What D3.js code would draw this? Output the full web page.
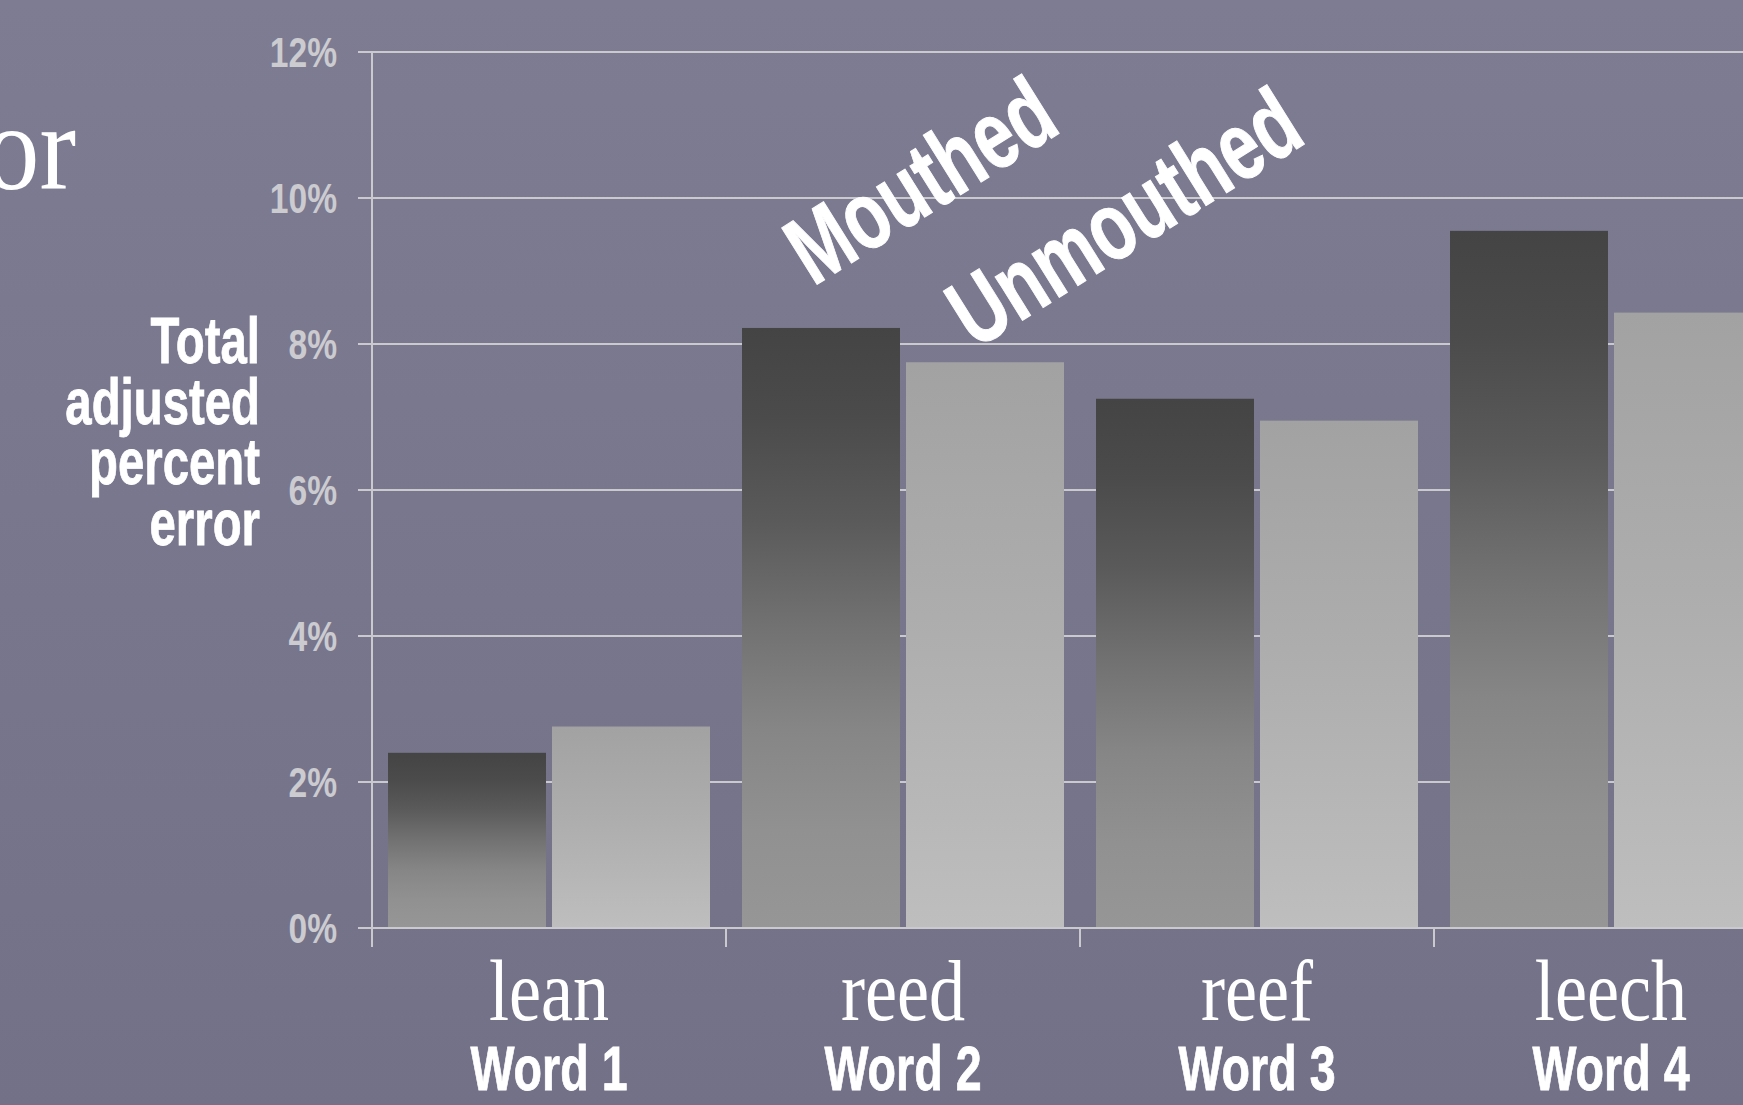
<!DOCTYPE html>
<html>
<head>
<meta charset="utf-8">
<script src="https://cdn.jsdelivr.net/npm/d3@7"></script>
<style>
  html, body { margin: 0; padding: 0; background: #78768d; overflow: hidden; }
  svg { display: block; }
</style>
</head>
<body>
<svg id="chart" width="1743" height="1105"></svg>
<script>
// ---- data ----
const categories = ["Word 1", "Word 2", "Word 3", "Word 4"];
const words = ["lean", "reed", "reef", "leech"];
const series = ["Mouthed", "Unmouthed"];
const mouthed = [2.40, 8.22, 7.25, 9.55];
const unmouthed = [2.76, 7.75, 6.95, 8.43];
const yTicks = [0, 2, 4, 6, 8, 10, 12];
const yTickLabels = ["0%", "2%", "4%", "6%", "8%", "10%", "12%"];
const yTitleLines = ["Total", "adjusted", "percent", "error"];
const titleFragment = "or";

// ---- layout ----
const W = 1743, H = 1105;
const svg = d3.select("#chart");
const defs = svg.append("defs");

const COND = "'Liberation Sans', Arial, sans-serif";
const SERIF = "'Liberation Serif', 'Times New Roman', serif";

// background gradient
const bg = defs.append("linearGradient").attr("id", "bg").attr("x1", 0).attr("y1", 0).attr("x2", 0).attr("y2", 1);
bg.append("stop").attr("offset", "0%").attr("stop-color", "#7d7c92");
bg.append("stop").attr("offset", "100%").attr("stop-color", "#737188");
svg.append("rect").attr("width", W).attr("height", H).attr("fill", "url(#bg)");

// bar gradients
const gM = defs.append("linearGradient").attr("id", "gM").attr("x1", 0).attr("y1", 0).attr("x2", 0).attr("y2", 1);
[[0, "#444444"], [0.15, "#4b4b4b"], [0.32, "#5a5a5a"], [0.5, "#727272"], [0.67, "#868686"], [0.84, "#919191"], [1, "#969696"]]
  .forEach(([o, c]) => gM.append("stop").attr("offset", o).attr("stop-color", c));
const gU = defs.append("linearGradient").attr("id", "gU").attr("x1", 0).attr("y1", 0).attr("x2", 0).attr("y2", 1);
[[0, "#a2a2a2"], [0.45, "#adadad"], [1, "#bebebe"]]
  .forEach(([o, c]) => gU.append("stop").attr("offset", o).attr("stop-color", c));

// scales
const x0 = d3.scaleBand().domain(categories).range([372, 372 + 354 * 4]).padding(0);
const x1 = d3.scaleBand().domain(series).range([16, 338]).paddingInner(0.0366).paddingOuter(0);
const y = d3.scaleLinear().domain([0, 12]).range([928, 52]);

// gridlines
svg.append("g").selectAll("line").data(yTicks).join("line")
  .attr("x1", 358).attr("x2", W)
  .attr("y1", d => y(d)).attr("y2", d => y(d))
  .attr("stroke", "#c9c9ce").attr("stroke-width", 2);

// y tick labels
svg.append("g").selectAll("text").data(yTicks).join("text")
  .attr("transform", d => `translate(337,${y(d) + 15}) scale(0.8,1)`)
  .attr("text-anchor", "end")
  .attr("font-family", COND).attr("font-weight", "bold").attr("font-size", 42)
  .attr("fill", "#cbcbd0")
  .text((d, i) => yTickLabels[i]);

// bars
const rows = categories.map((c, i) => ({ cat: c, vals: [mouthed[i], unmouthed[i]] }));
const barG = svg.append("g");
rows.forEach(r => {
  barG.selectAll(null).data(series.map((s, j) => ({ s, v: r.vals[j] }))).join("rect")
    .attr("x", d => x0(r.cat) + x1(d.s))
    .attr("width", x1.bandwidth())
    .attr("y", d => y(d.v))
    .attr("height", d => y(0) - y(d.v))
    .attr("fill", d => d.s === "Mouthed" ? "url(#gM)" : "url(#gU)");
});

// axes lines
svg.append("line").attr("x1", 372).attr("x2", 372).attr("y1", y(12)).attr("y2", y(0) + 19)
  .attr("stroke", "#c9c9ce").attr("stroke-width", 2);
svg.append("line").attr("x1", 358).attr("x2", W).attr("y1", y(0)).attr("y2", y(0))
  .attr("stroke", "#c9c9ce").attr("stroke-width", 2);
svg.append("g").selectAll("line").data(categories).join("line")
  .attr("x1", d => x0(d)).attr("x2", d => x0(d))
  .attr("y1", y(0)).attr("y2", y(0) + 19)
  .attr("stroke", "#c9c9ce").attr("stroke-width", 2);

// category labels
const catG = svg.append("g");
catG.selectAll("text.word").data(categories).join("text").attr("class", "word")
  .attr("transform", d => `translate(${x0(d) + x0.bandwidth() / 2},1020) scale(0.83,1)`)
  .attr("text-anchor", "middle")
  .attr("font-family", SERIF).attr("font-size", 87).attr("fill", "#ffffff")
  .text((d, i) => words[i]);
catG.selectAll("text.cat").data(categories).join("text").attr("class", "cat")
  .attr("transform", d => `translate(${x0(d) + x0.bandwidth() / 2},1090) scale(0.74,1)`)
  .attr("text-anchor", "middle")
  .attr("font-family", COND).attr("font-weight", "bold").attr("font-size", 63)
  .attr("fill", "#ffffff").attr("stroke", "#ffffff").attr("stroke-width", 0.8)
  .text(d => d);

// y title
svg.append("g").selectAll("text").data(yTitleLines).join("text")
  .attr("transform", (d, i) => `translate(260,${363 + i * 60.7}) scale(0.74,1)`)
  .attr("text-anchor", "end")
  .attr("font-family", COND).attr("font-weight", "bold").attr("font-size", 64)
  .attr("fill", "#ffffff").attr("stroke", "#ffffff").attr("stroke-width", 0.8)
  .text(d => d);

// series labels (rotated)
const serPos = [[813, 287], [975, 350]];
svg.append("g").selectAll("text").data(series).join("text")
  .attr("transform", (d, i) => `translate(${serPos[i][0]},${serPos[i][1]}) rotate(-32) scale(0.73,1)`)
  .attr("font-family", COND).attr("font-weight", "bold").attr("font-size", 97)
  .attr("fill", "#ffffff").attr("stroke", "#ffffff").attr("stroke-width", 1)
  .text(d => d);

// title fragment (cut off at the left edge)
svg.append("text")
  .attr("transform", "translate(76,189) scale(0.9,1)")
  .attr("text-anchor", "end")
  .attr("font-family", SERIF).attr("font-size", 122).attr("fill", "#ffffff")
  .text(titleFragment);
</script>
</body>
</html>
